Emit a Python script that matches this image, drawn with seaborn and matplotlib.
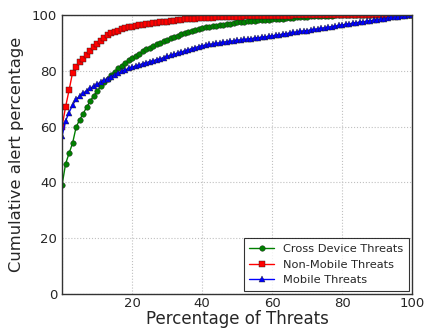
import numpy as np
import pandas as pd
import matplotlib
matplotlib.use("Agg")
import matplotlib.pyplot as plt
import seaborn as sns

# Percentage of threats (x axis)
pct = list(range(101))

# Cumulative alert percentage per series
cross_device = [
    39.0, 46.6, 50.4, 54.0, 59.7, 62.4, 64.5, 66.9, 69.0, 71.0,
    72.6, 74.4, 75.8, 77.0, 78.5, 79.7, 80.8, 81.8, 82.8, 83.7,
    84.5, 85.3, 86.1, 86.9, 87.6, 88.2, 88.8, 89.4, 90.0, 90.6,
    91.1, 91.6, 92.1, 92.6, 93.1, 93.5, 93.9, 94.3, 94.7, 95.0,
    95.3, 95.5, 95.7, 95.9, 96.1, 96.3, 96.5, 96.7, 96.9, 97.1,
    97.3, 97.4, 97.5, 97.7, 97.8, 97.9, 98.0, 98.1, 98.2, 98.3,
    98.4, 98.5, 98.6, 98.7, 98.8, 98.9, 99.0, 99.1, 99.2, 99.3,
    99.4, 99.45, 99.5, 99.55, 99.6, 99.65, 99.7, 99.75, 99.8, 99.85,
    99.9, 99.9, 99.9, 99.95, 99.95, 99.95, 100, 100, 100, 100,
    100, 100, 100, 100, 100, 100, 100, 100, 100, 100, 100,
]
non_mobile = [
    60.0, 67.0, 73.0, 79.3, 81.5, 83.1, 84.3, 85.8, 87.0, 88.4,
    89.6, 90.8, 91.8, 92.7, 93.4, 93.9, 94.4, 94.8, 95.2, 95.5,
    95.8, 96.05, 96.3, 96.5, 96.7, 96.85, 97.0, 97.15, 97.3, 97.45,
    97.6, 97.75, 97.9, 98.05, 98.2, 98.35, 98.5, 98.6, 98.7, 98.8,
    98.9, 98.95, 99.0, 99.05, 99.1, 99.15, 99.2, 99.25, 99.3, 99.35,
    99.4, 99.42, 99.45, 99.47, 99.5, 99.52, 99.55, 99.57, 99.6, 99.62,
    99.65, 99.67, 99.7, 99.72, 99.75, 99.77, 99.8, 99.82, 99.85, 99.87,
    99.9, 99.9, 99.9, 99.92, 99.92, 99.94, 99.94, 99.95, 99.95, 99.96,
    99.96, 99.97, 99.97, 99.98, 99.98, 99.99, 99.99, 100, 100, 100,
    100, 100, 100, 100, 100, 100, 100, 100, 100, 100, 100,
]
mobile = [
    56.5, 62.0, 65.0, 67.7, 69.7, 70.8, 72.0, 72.8, 73.7, 74.4,
    75.2, 75.9, 76.6, 77.2, 77.9, 78.6, 79.2, 79.8, 80.3, 80.8,
    81.3, 81.7, 82.1, 82.5, 82.9, 83.25, 83.6, 83.95, 84.3, 84.7,
    85.1, 85.5, 85.9, 86.3, 86.7, 87.1, 87.5, 87.9, 88.3, 88.65,
    89.0, 89.2, 89.4, 89.6, 89.8, 90.0, 90.2, 90.4, 90.55, 90.7,
    90.9, 91.05, 91.2, 91.35, 91.5, 91.7, 91.85, 92.0, 92.15, 92.3,
    92.5, 92.7, 92.9, 93.1, 93.3, 93.5, 93.7, 93.9, 94.1, 94.25,
    94.4, 94.6, 94.8, 95.0, 95.2, 95.4, 95.6, 95.8, 96.0, 96.2,
    96.4, 96.6, 96.8, 97.0, 97.2, 97.4, 97.55, 97.7, 97.9, 98.1,
    98.3, 98.5, 98.7, 98.9, 99.1, 99.25, 99.4, 99.55, 99.7, 99.85, 100,
]

series_names = ["Cross Device Threats", "Non-Mobile Threats", "Mobile Threats"]
colores = ["#008000", "#ff0000", "#0000ff"]
marcadores = ["o", "s", "^"]

sns.set_style("white")
plt.rcParams['font.family'] = ['DejaVu Sans']

fig = plt.figure(figsize=(4.28, 3.31), dpi=100)
ax = fig.add_axes([0.145, 0.112, 0.818, 0.843])

for nombre, valores, color, marca in zip(series_names,
                                         [cross_device, non_mobile, mobile],
                                         colores, marcadores):
    df = pd.DataFrame({"x": pct, "y": valores})
    sns.lineplot(data=df, x="x", y="y", ax=ax, color=color, marker=marca,
                 markersize=4, markeredgecolor="#202020", markeredgewidth=0.3,
                 linewidth=1.0, label=nombre)

ax.set_xlim(0, 100)
ax.set_ylim(0, 100)
ax.set_xticks([0, 20, 40, 60, 80, 100])
ax.set_xticklabels(["", "20", "40", "60", "80", "100"])
ax.set_yticks([0, 20, 40, 60, 80, 100])
ax.tick_params(labelsize=9.5, direction="in", length=3, color="#333333")
ax.tick_params(axis="x", pad=2)
ax.grid(True, linestyle=":", color="#c0c0c0", linewidth=0.8)
for s in ax.spines.values():
    s.set_color("#333333")
    s.set_linewidth(1.0)

ax.set_xlabel("Percentage of Threats", fontsize=12, labelpad=0)
ax.set_ylabel("Cumulative alert percentage", fontsize=11.8, labelpad=6)

leg = ax.legend(loc="lower right", fontsize=8.2, frameon=True, fancybox=False,
                borderaxespad=0.25, handlelength=2.2, borderpad=0.5)
leg.get_frame().set_edgecolor("#000000")
leg.get_frame().set_linewidth(0.8)

fig.savefig("out.png", dpi=100)
